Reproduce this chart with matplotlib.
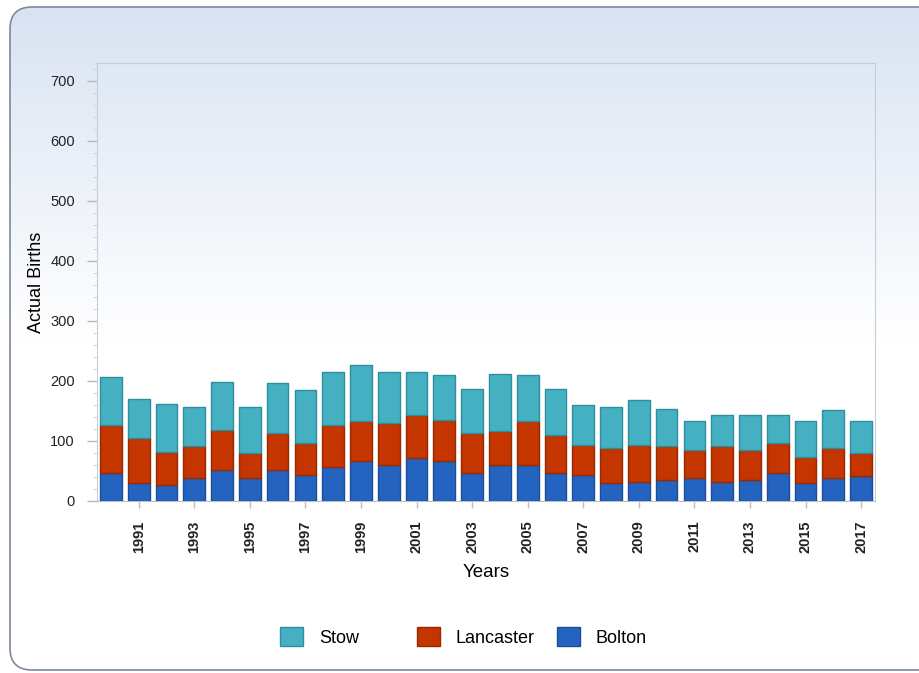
import numpy as np
import matplotlib
matplotlib.use('Agg')
import matplotlib.pyplot as plt
from matplotlib.patches import FancyBboxPatch, Patch

plt.rcParams['font.family'] = ['Liberation Sans', 'DejaVu Sans']

# data
years = list(range(1990, 2018))
bolton = [46, 30, 27, 38, 52, 38, 52, 44, 57, 66, 60, 71, 66, 46,
          60, 60, 46, 44, 30, 32, 35, 38, 32, 35, 46, 30, 38, 41]
lancaster = [80, 75, 55, 53, 67, 42, 61, 53, 69, 67, 70, 73, 69, 67,
             56, 73, 64, 49, 58, 61, 56, 47, 59, 50, 50, 44, 50, 39]
stow = [81, 65, 80, 65, 79, 76, 83, 88, 89, 94, 85, 71, 75, 74,
        96, 77, 77, 67, 69, 75, 63, 49, 52, 58, 47, 60, 63, 54]
tick_years = list(range(1991, 2018, 2))
series_names = ['Stow', 'Lancaster', 'Bolton']

W, H = 919, 673
fig = plt.figure(figsize=(W / 100, H / 100), dpi=100)
fig.patch.set_facecolor('white')

# background panel with rounded corners and a soft blue gradient
bg = fig.add_axes([0, 0, 1, 1])
bg.set_xlim(0, W)
bg.set_ylim(0, H)
bg.axis('off')
panel = FancyBboxPatch((10, 3), W + 20, H - 10, boxstyle='round,pad=0,rounding_size=22',
                       facecolor='none', edgecolor='#7d8a99', linewidth=1.2, zorder=2)
bg.add_patch(panel)
grad = np.linspace(0, 1, 256).reshape(-1, 1)
cmap = matplotlib.colors.LinearSegmentedColormap.from_list('bgc', ['#ffffff', '#ffffff', '#d8e3f2'])
im = bg.imshow(grad, extent=[10, W + 30, 3, H - 7], origin='lower', cmap=cmap,
               aspect='auto', zorder=1)
im.set_clip_path(panel)

# main axes
ax = fig.add_axes([97 / W, 1 - 501 / H, (875 - 97) / W, (501 - 63) / H])
ax.set_facecolor('none')

x = np.array(years)
b = np.array(bolton)
l = np.array(lancaster)
s = np.array(stow)
w = 0.78
cols = {'Stow': ('#45b0c2', '#2f8e9e'),
        'Lancaster': ('#c43500', '#982a00'),
        'Bolton': ('#2563c0', '#1c4d98')}
ax.bar(x, b, width=w, color=cols['Bolton'][0], edgecolor=cols['Bolton'][1], linewidth=1, zorder=3)
ax.bar(x, l, width=w, bottom=b, color=cols['Lancaster'][0], edgecolor=cols['Lancaster'][1],
       linewidth=1, zorder=3)
ax.bar(x, s, width=w, bottom=b + l, color=cols['Stow'][0], edgecolor=cols['Stow'][1],
       linewidth=1, zorder=3)

ax.set_xlim(1989.5, 2017.5)
ax.set_ylim(0, 730)
ax.set_yticks(range(0, 800, 100))
ax.set_yticks(range(0, 730, 20), minor=True)
ax.set_xticks(tick_years)
ax.set_xticklabels([str(t) for t in tick_years], rotation=90, fontsize=10.5, fontweight='bold',
                   color='#222222')
ax.tick_params(axis='y', labelsize=10.5, color='#b0b8c2', length=7, width=1,
               labelcolor='#222222', pad=9)
ax.tick_params(axis='y', which='minor', color='#c8ced6', length=3)
ax.tick_params(axis='x', color='#c0c0c0', length=5, width=1, pad=9)
for t in ax.xaxis.get_ticklines():
    t.set_linestyle((0, (1, 1)))
for sp in ax.spines.values():
    sp.set_color('#c5cdd8')
ax.spines['bottom'].set_color('#b8c0ca')

ax.set_ylabel('Actual Births', fontsize=13)
ax.yaxis.set_label_coords((45 - 97) / 778, 0.5)
ax.set_xlabel('Years', fontsize=13.5, labelpad=8)

# legend entries sit at uneven spacing in the original, so place them one by one
leg_x = [280, 417, 557]
for name, lx in zip(series_names, leg_x):
    h = Patch(facecolor=cols[name][0], edgecolor=cols[name][1], label=name)
    fig.legend(handles=[h], loc='center left', bbox_to_anchor=(lx / W, 1 - 637 / H),
               frameon=False, fontsize=13, handlelength=1.25, handleheight=1.25,
               handletextpad=0.9, borderpad=0, borderaxespad=0)

fig.savefig('out.png', dpi=100)
